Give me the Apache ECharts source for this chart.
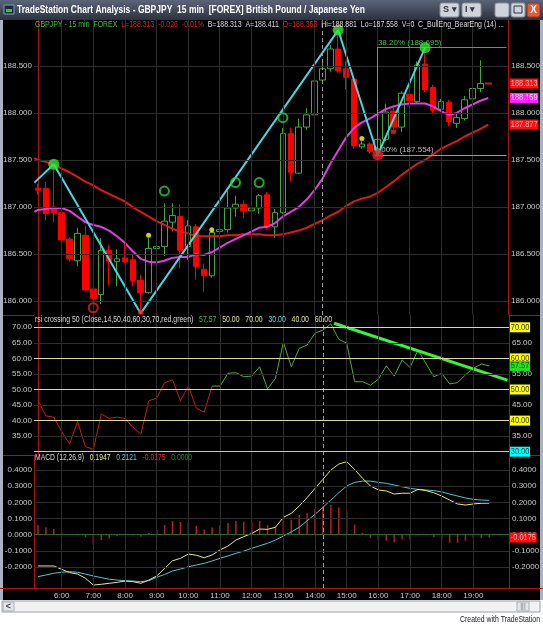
<!DOCTYPE html>
<html>
<head>
<meta charset="utf-8">
<script src="https://cdn.jsdelivr.net/npm/echarts@6/dist/echarts.min.js"></script>
<style>
  html, body { margin: 0; padding: 0; background: #fff; }
  #chart { width: 543px; height: 625px; }
</style>
</head>
<body>
<div id="chart"></div>
<script>
var FONT = '"Liberation Sans", Arial, sans-serif';
var SQ = 0.82; // horizontal squeeze for the narrow TradeStation font

// 15 min bars, GBPJPY
var times = ['5:15','5:30','5:45','6:00','6:15','6:30','6:45','7:00','7:15','7:30','7:45','8:00','8:15','8:30','8:45',
  '9:00','9:15','9:30','9:45','10:00','10:15','10:30','10:45','11:00','11:15','11:30','11:45','12:00','12:15','12:30','12:45',
  '13:00','13:15','13:30','13:45','14:00','14:15','14:30','14:45','15:00','15:15','15:30','15:45','16:00','16:15','16:30','16:45',
  '17:00','17:15','17:30','17:45','18:00','18:15','18:30','18:45','19:00','19:15','19:30','19:45','20:00'];

var openP = [187.20,187.20,187.00,186.94,186.66,186.43,186.70,186.13,186.07,186.54,186.42,186.46,186.44,186.22,186.09,186.56,186.58,186.84,186.90,186.58,
  186.79,186.34,186.27,186.74,186.76,186.99,187.03,186.96,186.99,187.13,186.79,186.94,187.78,187.36,187.85,187.98,188.35,188.47,188.68,188.47,
  188.36,187.64,187.67,187.60,187.72,188.02,187.85,188.20,188.12,188.52,188.27,188.04,188.11,187.89,187.94,188.15,188.26];
var closeP = [187.18,186.93,186.94,186.65,186.45,186.72,186.12,186.03,186.54,186.43,186.45,186.42,186.22,186.09,186.56,186.58,186.85,186.91,186.54,186.80,
  186.37,186.27,186.73,186.76,186.99,187.03,186.96,186.99,187.12,186.79,186.94,187.78,187.37,187.85,187.98,188.34,188.47,188.68,188.45,188.38,
  187.65,187.67,187.59,187.72,188.01,187.85,188.21,188.13,188.51,188.25,188.03,188.12,187.91,187.95,188.14,188.26,188.313];
var lowP = [187.13,186.86,186.84,186.60,186.42,186.37,186.11,186.00,185.97,186.17,186.16,186.40,186.16,185.87,186.08,186.40,186.48,186.74,186.35,186.44,
  186.23,186.10,186.25,186.60,186.73,186.90,186.88,186.86,186.93,186.76,186.67,186.93,187.27,187.35,187.82,187.93,188.31,188.44,188.43,188.25,
  187.62,187.62,187.57,187.554,187.70,187.82,187.80,188.08,188.10,188.22,187.99,188.02,187.86,187.84,187.92,188.13,188.22];
var highP = [187.25,187.27,187.455,187.01,186.68,186.78,186.80,186.14,186.67,186.60,186.55,186.62,186.50,186.28,186.67,186.87,187.04,187.04,187.03,186.86,
  186.82,186.40,186.74,186.93,187.17,187.12,187.07,187.09,187.14,187.16,186.98,187.84,187.84,187.94,188.05,188.37,188.55,188.72,188.881,188.55,
  188.38,187.70,187.69,187.75,188.10,188.08,188.23,188.30,188.55,188.695,188.30,188.15,188.14,187.99,188.18,188.35,188.56];

// averages (magenta fast, red slow); *Edge = value where the line enters at the left border
var maFast = [186.97,186.98,186.99,186.99,186.96,186.90,186.84,186.81,186.79,186.75,186.69,186.62,186.53,186.45,186.42,186.41,186.43,186.46,186.47,186.47,
  186.50,186.49,186.52,186.57,186.62,186.66,186.70,186.74,186.78,186.79,186.83,186.90,186.95,187.00,187.08,187.18,187.30,187.46,187.60,187.74,
  187.84,187.90,187.94,187.99,188.04,188.07,188.09,188.10,188.10,188.10,188.07,188.02,187.98,188.00,188.05,188.09,188.13,188.159];
var maSlow = [187.50,187.48,187.45,187.41,187.37,187.32,187.27,187.23,187.18,187.14,187.10,187.06,187.00,186.95,186.90,186.85,186.81,186.77,186.74,186.72,
  186.69,186.69,186.69,186.69,186.70,186.70,186.71,186.71,186.71,186.70,186.70,186.71,186.73,186.75,186.78,186.82,186.86,186.91,186.95,187.01,
  187.06,187.09,187.11,187.15,187.21,187.27,187.34,187.40,187.46,187.50,187.56,187.62,187.66,187.70,187.75,187.79,187.83,187.877];
var maFastEdge = 186.95;
var maSlowEdge = 187.52;

// swing line
var zigX = [-0.45, 2, 13, 38, 43, 49];
var zigY = [187.26, 187.455, 185.87, 188.881, 187.554, 188.695];

// markers
var pivotHigh = [[2, 187.455], [38, 188.881], [49, 188.695]];
var pivotLow = [[43, 187.554]];
var ringUp = [[16, 187.17], [25, 187.26], [28, 187.26], [31, 187.95]];
var ringDown = [[7, 185.93]];
var yellowDot = [[14, 186.70], [22, 186.76], [41, 187.73]];
var redTick = [[13, 185.88], [45, 187.80]];
var lastTick = [[57, 188.313]];

var rsi = [46.6,41.5,41.1,36.4,32.5,39.7,31.6,30.8,42.1,40.7,41.1,40.7,37.8,35.7,46.4,47.2,52.2,53.1,46.4,51.1,
  44.0,42.7,51.1,51.1,55.2,55.4,54.1,54.3,57.3,50.2,53.6,65.2,57.3,63.2,64.3,68.1,69.1,71.1,66.1,64.9,
  52.5,52.5,51.4,53.3,57.6,54.3,59.5,57.1,62.7,58.4,54.1,55.2,51.8,52.2,54.7,56.8,58.2,57.57];
var rsiTrendX = [37.4, 59.3];
var rsiTrendY = [71.3, 53.0];

var macd = [-0.193,-0.193,-0.193,-0.214,-0.234,-0.243,-0.269,-0.311,-0.306,-0.300,-0.294,-0.286,-0.290,-0.300,-0.280,-0.255,-0.208,-0.161,-0.146,-0.119,
  -0.127,-0.142,-0.125,-0.094,-0.070,-0.033,-0.012,0.008,0.035,0.033,0.046,0.107,0.132,0.177,0.229,0.286,0.342,0.399,0.436,0.451,
  0.403,0.348,0.301,0.276,0.270,0.251,0.256,0.256,0.280,0.272,0.259,0.239,0.214,0.190,0.183,0.190,0.194,0.1947];
var signal = [-0.259,-0.249,-0.238,-0.232,-0.228,-0.232,-0.243,-0.255,-0.265,-0.275,-0.280,-0.284,-0.286,-0.290,-0.284,-0.263,-0.245,-0.224,-0.212,-0.198,
  -0.187,-0.177,-0.162,-0.146,-0.131,-0.115,-0.101,-0.084,-0.068,-0.053,-0.033,-0.008,0.017,0.046,0.086,0.126,0.169,0.214,0.259,0.301,
  0.323,0.331,0.331,0.323,0.317,0.307,0.296,0.286,0.280,0.276,0.272,0.264,0.251,0.239,0.227,0.218,0.214,0.2121];
var hist = [0.060,0.046,0.037,0.012,-0.002,-0.003,-0.016,-0.059,-0.033,-0.023,-0.008,-0.002,-0.003,-0.012,0.010,0.030,0.060,0.085,0.078,0.078,
  0.055,0.032,0.045,0.060,0.072,0.085,0.080,0.080,0.085,0.060,0.052,0.100,0.092,0.122,0.132,0.157,0.173,0.183,0.168,0.145,
  0.062,0.012,-0.020,-0.037,-0.037,-0.047,-0.029,-0.029,-0.005,-0.004,-0.016,-0.030,-0.050,-0.050,-0.038,-0.022,-0.020,-0.0175];

var priceTicks = [186.0, 186.5, 187.0, 187.5, 188.0, 188.5];
var rsiLeftTicks = [35, 40, 45, 50, 55, 60, 65, 70];
var rsiRightTicks = [35, 45, 55, 65];
var macdTicks = [-0.2, -0.1, 0, 0.1, 0.2, 0.3, 0.4];

var hourIdx = [];
times.forEach(function (t, i) { if (t.slice(-3) === ':00' && i < 59) hourIdx.push(i); });
var cursorIdx = 36;

var LABEL = '#c8c8c8';
var AXISRED = '#b01010';
var GRIDC = '#2e2e2e';

var chart = echarts.init(document.getElementById('chart'));

function catAxis(g, showLabel) {
  return {
    type: 'category', gridIndex: g, data: times, boundaryGap: true,
    axisLine: { show: false }, axisTick: { show: false }, splitLine: { show: false },
    axisLabel: {
      show: showLabel, color: LABEL, fontSize: 8, fontFamily: FONT, margin: 4,
      interval: function (i, v) { return v.slice(-3) === ':00' && i < 59; }
    }
  };
}
function valAxis(g) {
  return { type: 'value', gridIndex: g, min: -0.5, max: 59.5, show: false };
}
function yAx(g, pos, min, max, ticks, digits) {
  return {
    type: 'value', gridIndex: g, position: pos, min: min, max: max, scale: true,
    axisLine: { show: true, lineStyle: { color: AXISRED } },
    axisTick: { show: false }, splitLine: { show: false },
    axisLabel: {
      customValues: ticks, color: LABEL, fontSize: 8, fontFamily: FONT, margin: pos === 'left' ? 2 : 3,
      formatter: function (v) { return v.toFixed(digits); }
    }
  };
}
// lines for grid / levels, drawn as markLine of an empty series
function gridLines(xi, yi, items) {
  return {
    type: 'line', xAxisIndex: xi, yAxisIndex: yi, data: [], silent: true, z: 1,
    markLine: { silent: true, symbol: 'none', animation: false, label: { show: false }, data: items }
  };
}
function hLine(v, color) { return { yAxis: v, lineStyle: { color: color, width: 1, type: 'solid' } }; }
function vLines() {
  var out = hourIdx.map(function (i) { return { xAxis: times[i], lineStyle: { color: GRIDC, width: 1, type: 'solid' } }; });
  out.push({ xAxis: times[cursorIdx], lineStyle: { color: '#9a9a9a', width: 1, type: [4, 3] } });
  return out;
}
function pairs(xs, ys) { return xs.map(function (x, i) { return [x, ys[i]]; }); }
function withEdge(edge, arr) { return [[-0.45, edge]].concat(arr.map(function (v, i) { return [i, v]; })); }

var candles = openP.map(function (o, i) { return [o, closeP[i], lowP[i], highP[i]]; });
var rsiRed = rsi.map(function (v, i) { return i <= 22 ? v : null; });
var rsiGreen = rsi.map(function (v, i) { return i >= 22 ? v : null; });

var priceLines = vLines().concat(priceTicks.map(function (v) { return hLine(v, GRIDC); }));
var rsiLines = vLines().concat([35, 45, 55, 65].map(function (v) { return hLine(v, GRIDC); }))
  .concat([40, 50, 60, 70].map(function (v) { return hLine(v, '#dcdc9a'); }))
  .concat([hLine(30, '#9fd6dc')]);
var macdLines = vLines().concat([-0.2, -0.1, 0.1, 0.2, 0.3, 0.4].map(function (v) { return hLine(v, GRIDC); }))
  .concat([hLine(0, '#2c6a2c')]);

var option = {
  backgroundColor: '#000',
  animation: false,
  textStyle: { fontFamily: FONT },
  grid: [
    { left: 34, right: 34, top: 20, height: 295 },
    { left: 34, right: 34, top: 315, height: 140 },
    { left: 34, right: 34, top: 455, height: 133 }
  ],
  xAxis: [catAxis(0, false), valAxis(0), catAxis(1, false), valAxis(1), catAxis(2, true)],
  yAxis: [
    yAx(0, 'left', 185.853, 188.988, priceTicks, 3),
    yAx(0, 'right', 185.853, 188.988, priceTicks, 3),
    yAx(1, 'left', 28.94, 73.95, rsiLeftTicks, 2),
    yAx(1, 'right', 28.94, 73.95, rsiRightTicks, 2),
    yAx(2, 'left', -0.329, 0.492, macdTicks, 4),
    yAx(2, 'right', -0.329, 0.492, macdTicks, 4)
  ],
  series: [
    gridLines(0, 0, priceLines),
    {
      type: 'candlestick', xAxisIndex: 0, yAxisIndex: 0, data: candles, barWidth: 6, z: 2,
      itemStyle: { color: '#000', color0: '#ff0000', borderColor: '#3fa83f', borderColor0: '#ff0000', borderWidth: 1 }
    },
    { type: 'line', xAxisIndex: 1, yAxisIndex: 0, data: withEdge(maSlowEdge, maSlow), showSymbol: false, z: 3, lineStyle: { color: '#e01818', width: 2 } },
    { type: 'line', xAxisIndex: 1, yAxisIndex: 0, data: withEdge(maFastEdge, maFast), showSymbol: false, z: 3, lineStyle: { color: '#e23ce2', width: 2 } },
    {
      type: 'line', xAxisIndex: 1, yAxisIndex: 0, data: [], z: 3,
      markLine: {
        silent: true, symbol: 'none', animation: false,
        data: [
          [{ coord: [42.9, 188.695], lineStyle: { color: '#4aa84a', width: 1, type: 'solid' },
             label: { show: true, position: 'insideStartTop', formatter: '38.20% (188.695)', color: '#4cc04c', fontSize: 8, fontFamily: FONT, distance: [1, 1] } },
           { coord: [59.3, 188.695] }],
          [{ coord: [42.6, 187.554], lineStyle: { color: '#9a9a9a', width: 1, type: 'solid' },
             label: { show: true, position: 'insideStartTop', formatter: '0.00% (187.554)', color: '#b8b8b8', fontSize: 8, fontFamily: FONT, distance: [0, 1] } },
           { coord: [59.3, 187.554] }],
          [{ coord: [42.9, 187.554], lineStyle: { color: '#8a8a8a', width: 1, type: 'solid' }, label: { show: false } },
           { coord: [42.9, 188.695] }]
        ]
      }
    },
    { type: 'line', xAxisIndex: 1, yAxisIndex: 0, data: pairs(zigX, zigY), showSymbol: false, z: 4, lineStyle: { color: '#45d8e0', width: 2 } },
    { type: 'scatter', xAxisIndex: 1, yAxisIndex: 0, data: pivotHigh, symbolSize: 11, z: 5, itemStyle: { color: '#2ee82e' } },
    { type: 'scatter', xAxisIndex: 1, yAxisIndex: 0, data: pivotLow, symbolSize: 11, z: 5, itemStyle: { color: '#ee2020' } },
    { type: 'scatter', xAxisIndex: 1, yAxisIndex: 0, data: ringUp, symbolSize: 9, z: 5, itemStyle: { color: 'rgba(0,0,0,0)', borderColor: '#2fd02f', borderWidth: 2 } },
    { type: 'scatter', xAxisIndex: 1, yAxisIndex: 0, data: ringDown, symbolSize: 9, z: 5, itemStyle: { color: 'rgba(0,0,0,0)', borderColor: '#ee2020', borderWidth: 2 } },
    { type: 'scatter', xAxisIndex: 1, yAxisIndex: 0, data: yellowDot, symbolSize: 5, z: 5, itemStyle: { color: '#ffff30' } },
    { type: 'scatter', xAxisIndex: 1, yAxisIndex: 0, data: redTick, symbol: 'rect', symbolSize: [5, 4], z: 5, itemStyle: { color: '#ff2020' } },
    { type: 'scatter', xAxisIndex: 1, yAxisIndex: 0, data: lastTick, symbol: 'rect', symbolSize: [7, 2], z: 5, itemStyle: { color: '#ff2020' } },

    gridLines(2, 2, rsiLines),
    { type: 'line', xAxisIndex: 2, yAxisIndex: 2, data: rsiRed, showSymbol: false, z: 3, lineStyle: { color: '#c42020', width: 1 } },
    { type: 'line', xAxisIndex: 2, yAxisIndex: 2, data: rsiGreen, showSymbol: false, z: 3, lineStyle: { color: '#5aa83a', width: 1 } },
    { type: 'line', xAxisIndex: 3, yAxisIndex: 2, data: pairs(rsiTrendX, rsiTrendY), showSymbol: false, z: 4, clip: false, lineStyle: { color: '#3cf03c', width: 3 } },

    gridLines(4, 4, macdLines),
    { type: 'bar', xAxisIndex: 4, yAxisIndex: 4, data: hist, barWidth: 1.5, z: 2, itemStyle: { color: '#b82020' } },
    { type: 'line', xAxisIndex: 4, yAxisIndex: 4, data: signal, showSymbol: false, z: 3, lineStyle: { color: '#58c4cc', width: 1 } },
    { type: 'line', xAxisIndex: 4, yAxisIndex: 4, data: macd, showSymbol: false, z: 4, lineStyle: { color: '#e8e88a', width: 1 } }
  ]
};
chart.setOption(option);

// measure a string so it can be squeezed to the width it has in the screenshot
var measureCtx = document.createElement('canvas').getContext('2d');
function fitScale(text, font, width) {
  measureCtx.font = font;
  var plain = text.replace(/\{\w+\|/g, '').replace(/\}/g, '');
  return width / measureCtx.measureText(plain).width;
}
// text helper: squeezed horizontally like the narrow platform font
function label(x, y, style, z, width) {
  style.verticalAlign = style.verticalAlign || 'middle';
  var sx = width ? fitScale(style.text, style.font, width) : SQ;
  return { type: 'text', z: z || 100, x: x, y: y, scaleX: sx, style: style };
}
// right hand value boxes, placed through the axes
function box(yi, v, txt, bg, fg) {
  var y = chart.convertToPixel({ yAxisIndex: yi }, v);
  return label(510, y, { text: txt, font: '9px ' + FONT, fill: fg, backgroundColor: bg, padding: [1, 1, 0, 1] });
}
function seg(x1, y1, x2, y2, color) {
  return { type: 'line', z: 90, shape: { x1: x1, y1: y1, x2: x2, y2: y2 }, style: { stroke: color, lineWidth: 1 } };
}

var g = [];
// window title bar
g.push({ type: 'rect', z: 90, shape: { x: 0, y: 0, width: 543, height: 20 },
  style: { fill: { type: 'linear', x: 0, y: 0, x2: 0, y2: 1, colorStops: [{ offset: 0, color: '#5a6578' }, { offset: 1, color: '#2b3240' }] } } });
g.push({ type: 'rect', z: 91, shape: { x: 4, y: 5, width: 10, height: 9 }, style: { fill: '#1c2a3a', stroke: '#7fa0c0' } });
g.push({ type: 'rect', z: 92, shape: { x: 6, y: 9, width: 6, height: 3 }, style: { fill: '#2ecc40' } });
g.push(label(17, 10, { text: 'TradeStation Chart Analysis - GBPJPY  15 min  [FOREX] British Pound / Japanese Yen',
  font: 'bold 10px ' + FONT, fill: '#ffffff' }, 91, 348));
[['S', 440], ['I', 462]].forEach(function (b) {
  g.push({ type: 'rect', z: 91, shape: { x: b[1], y: 3, width: 19, height: 14, r: 2 }, style: { fill: '#cfd3da', stroke: '#8a909c' } });
  g.push({ type: 'text', z: 92, x: b[1] + 3, y: 10, style: { text: b[0] + ' \u25be', font: 'bold 9px ' + FONT, fill: '#303440', verticalAlign: 'middle' } });
});
g.push({ type: 'rect', z: 91, shape: { x: 495, y: 3, width: 14, height: 14, r: 2 }, style: { fill: '#cfd3da', stroke: '#8a909c' } });
g.push(seg(499, 13, 505, 13, '#303440'));
g.push({ type: 'rect', z: 91, shape: { x: 511, y: 3, width: 14, height: 14, r: 2 }, style: { fill: '#cfd3da', stroke: '#8a909c' } });
g.push({ type: 'rect', z: 92, shape: { x: 514, y: 6, width: 8, height: 7 }, style: { fill: 'none', stroke: '#303440' } });
g.push({ type: 'rect', z: 91, shape: { x: 527, y: 3, width: 13, height: 14, r: 2 }, style: { fill: '#e05a3a', stroke: '#a03018' } });
g.push({ type: 'text', z: 92, x: 533.5, y: 10, style: { text: 'X', font: 'bold 10px ' + FONT, fill: '#ffffff', align: 'center', verticalAlign: 'middle' } });

// window frame and bottom strip
g.push({ type: 'rect', z: 90, shape: { x: 0, y: 20, width: 3, height: 585 }, style: { fill: '#a8b2c0' } });
g.push({ type: 'rect', z: 90, shape: { x: 540, y: 20, width: 3, height: 585 }, style: { fill: '#a8b2c0' } });
g.push({ type: 'rect', z: 90, shape: { x: 0, y: 600, width: 543, height: 25 }, style: { fill: '#ffffff' } });
g.push({ type: 'rect', z: 91, shape: { x: 2, y: 601, width: 538, height: 11 }, style: { fill: '#f2f2f2', stroke: '#9aa0aa' } });
g.push({ type: 'rect', z: 92, shape: { x: 3, y: 602, width: 11, height: 9 }, style: { fill: '#e4e6ea', stroke: '#aab0b8' } });
g.push({ type: 'text', z: 93, x: 8.5, y: 606.5, style: { text: '<', font: 'bold 9px ' + FONT, fill: '#404040', align: 'center', verticalAlign: 'middle' } });
g.push({ type: 'rect', z: 92, shape: { x: 517, y: 602, width: 12, height: 9 }, style: { fill: '#e4e6ea', stroke: '#aab0b8' } });
g.push({ type: 'text', z: 93, x: 523, y: 606.5, style: { text: '|||', font: '7px ' + FONT, fill: '#707070', align: 'center', verticalAlign: 'middle' } });
g.push(label(540, 620, { text: 'Created with TradeStation', font: '9px ' + FONT, fill: '#202020', align: 'right' }, 91, 80));

// panel separators
g.push(seg(0, 588.5, 543, 588.5, AXISRED));
[315.5, 455.5].forEach(function (y) { g.push(seg(3, y, 34, y, AXISRED)); g.push(seg(509, y, 540, y, AXISRED)); });

// panel headers
g.push(label(35, 25, {
  text: '{g|GBPJPY - 15 min  FOREX}  {r|L=188.313  -0.026  -0.01%}  {w|B=188.313  A=188.411}  {r|O=188.363}  {w|Hi=188.881  Lo=187.558  V=0  C_BullEng_BearEng (14) ...}',
  font: '9px ' + FONT,
  rich: { g: { fill: '#3cc23c', font: '9px ' + FONT }, r: { fill: '#e02020', font: '9px ' + FONT }, w: { fill: '#d8d8d8', font: '9px ' + FONT } } }, 100, 469));
g.push(label(35, 320, {
  text: '{w|rsi crossing 50 (Close,14,50,40,60,30,70,red,green)}   {g|57.57}   {y|50.00}   {y|70.00}   {c|30.00}   {y|40.00}   {y|60.00}',
  font: '9px ' + FONT,
  rich: { w: { fill: '#d8d8d8', font: '9px ' + FONT }, g: { fill: '#58b858', font: '9px ' + FONT }, y: { fill: '#e0e0a0', font: '9px ' + FONT }, c: { fill: '#70d0d8', font: '9px ' + FONT } } }, 100, 297));
g.push(label(35, 458, {
  text: '{w|MACD (12,26,9)}   {y|0.1947}   {c|0.2121}   {r|-0.0175}   {d|0.0000}',
  font: '9px ' + FONT,
  rich: { w: { fill: '#d8d8d8', font: '9px ' + FONT }, y: { fill: '#e8e880', font: '9px ' + FONT }, c: { fill: '#60c8d0', font: '9px ' + FONT },
          r: { fill: '#d83030', font: '9px ' + FONT }, d: { fill: '#2a8a2a', font: '9px ' + FONT } } }, 100, 157));

// value boxes
g.push(box(1, 188.313, '188.313', '#ff1010', '#ffb0b0'));
g.push(box(1, 188.159, '188.159', '#ff20ff', '#ffd0ff'));
g.push(box(1, 187.877, '187.877', '#ff1010', '#ffb0b0'));
g.push(box(3, 70, '70.00', '#ffff00', '#303000'));
g.push(box(3, 60, '60.00', '#ffff00', '#303000'));
g.push(box(3, 50, '50.00', '#ffff00', '#303000'));
g.push(box(3, 40, '40.00', '#ffff00', '#303000'));
g.push(box(3, 57.57, '57.57', '#22e022', '#0a5a0a'));
g.push(box(3, 30, '30.00', '#00ffff', '#004040'));
g.push(box(5, -0.0175, '-0.0175', '#ff1010', '#ffb0b0'));

chart.setOption({ graphic: g });
</script>
</body>
</html>
